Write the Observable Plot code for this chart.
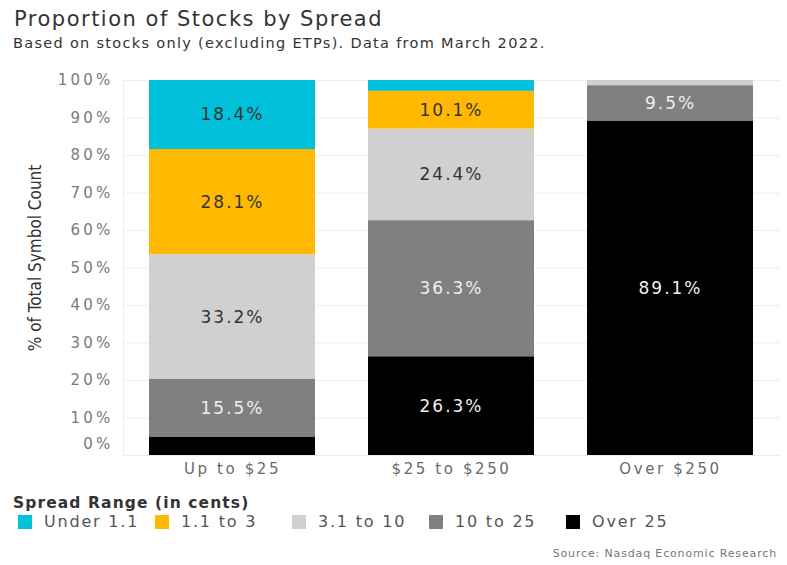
<!DOCTYPE html>
<html>
<head>
<meta charset="utf-8">
<script src="https://cdn.jsdelivr.net/npm/d3@7"></script>
<script src="https://cdn.jsdelivr.net/npm/@observablehq/plot@0.6"></script>
<style>
  body { margin: 0; background: #fff; width: 787px; height: 565px; overflow: hidden; position: relative; font-family: "DejaVu Sans", sans-serif; }
  #title { position: absolute; left: 14px; top: 9px; font-size: 21px; line-height: 21px; letter-spacing: 1.5px; color: #333; white-space: nowrap; }
  #subtitle { position: absolute; left: 13px; top: 36px; font-size: 14.5px; line-height: 15px; letter-spacing: 1.3px; color: #333; white-space: nowrap; }
  #chart { position: absolute; left: 0; top: 60px; }
  #legend-title { position: absolute; left: 13px; top: 493px; font-weight: bold; font-size: 15.5px; line-height: 20px; letter-spacing: 1.1px; color: #333; white-space: nowrap; }
  #legend { position: absolute; left: 18px; top: 512px; display: flex; }
  .item { width: 137px; display: flex; align-items: center; font-size: 16px; line-height: 20px; letter-spacing: 1.8px; color: #555; white-space: nowrap; }
  .swatch { width: 14px; height: 14px; margin-right: 12px; flex: none; }
  #source { position: absolute; right: 10px; top: 548px; font-size: 11px; line-height: 12px; letter-spacing: 0.85px; color: #777; white-space: nowrap; }
</style>
</head>
<body>
<div id="title">Proportion of Stocks by Spread</div>
<div id="subtitle">Based on stocks only (excluding ETPs). Data from March 2022.</div>
<div id="chart"></div>
<div id="legend-title">Spread Range (in cents)</div>
<div id="legend"></div>
<div id="source">Source: Nasdaq Economic Research</div>
<script>
// Categories
const priceGroups = ["Up to $25", "$25 to $250", "Over $250"];
const spreadRanges = ["Under 1.1", "1.1 to 3", "3.1 to 10", "10 to 25", "Over 25"];
const rangeColors = ["#00c1d9", "#ffb900", "#d0d0d0", "#808080", "#000000"];
const darkLabelRanges = ["Under 1.1", "1.1 to 3", "3.1 to 10"];
// Series values (% of total symbol count), in spreadRanges order
const upTo25 = [18.4, 28.1, 33.2, 15.5, 4.8];
const from25to250 = [2.9, 10.1, 24.4, 36.3, 26.3];
const over250 = [0, 0, 1.4, 9.5, 89.1];
// Tick values
const yTicks = [0, 10, 20, 30, 40, 50, 60, 70, 80, 90, 100];

const seriesByGroup = [upTo25, from25to250, over250];
const data = [];
priceGroups.forEach((g, gi) => {
  spreadRanges.forEach((r, ri) => {
    data.push({group: g, range: r, value: seriesByGroup[gi][ri]});
  });
});
const stackOrder = spreadRanges.slice().reverse();
const colorOf = r => rangeColors[spreadRanges.indexOf(r)];
const label = d => d.value >= 5 ? d.value.toFixed(1) + "%" : "";

const chart = Plot.plot({
  width: 787,
  height: 420,
  marginLeft: 123,
  marginRight: 7,
  marginTop: 20,
  marginBottom: 25,
  style: {fontFamily: "DejaVu Sans, sans-serif", background: "#fff"},
  x: {domain: priceGroups, paddingInner: 0.24, paddingOuter: 0.115},
  y: {domain: [0, 100]},
  color: {type: "identity"},
  marks: [
    Plot.gridY(yTicks, {stroke: "#eeeeee", strokeOpacity: 1}),
    Plot.frame({anchor: "left", stroke: "#eeeeee"}),
    Plot.frame({anchor: "bottom", stroke: "#eeeeee"}),
    Plot.barY(data, Plot.stackY({
      x: "group", y: "value", z: "range", order: stackOrder,
      fill: d => colorOf(d.range)
    })),
    Plot.text(data, Plot.stackY({
      x: "group", y: "value", z: "range", order: stackOrder,
      text: d => darkLabelRanges.includes(d.range) ? label(d) : "",
      fill: "#333333", fontSize: 17
    })),
    Plot.text(data, Plot.stackY({
      x: "group", y: "value", z: "range", order: stackOrder,
      text: d => darkLabelRanges.includes(d.range) ? "" : label(d),
      fill: "#eeeeee", fontSize: 17
    })),
    Plot.axisY(yTicks, {
      tickSize: 0, tickPadding: 10, tickFormat: d => d + "%",
      fontSize: 15, fill: "#7a7a7a",
      label: null
    }),
    Plot.axisX({
      tickSize: 0, tickPadding: 8, fontSize: 15, fill: "#6a6a6a", label: null
    })
  ]
});

// letter spacing like the reference's wide font
d3.select(chart).selectAll('[aria-label="y-axis tick label"] text').style("letter-spacing", "3.2px");
d3.select(chart).selectAll('[aria-label="x-axis tick label"] text').style("letter-spacing", "2.6px");
d3.select(chart).selectAll('[aria-label="text"] text').style("letter-spacing", "2px");
// the reference lifts the 0% label above the baseline
d3.select(chart).selectAll('[aria-label="y-axis tick label"] text')
  .filter(function() { return this.textContent === "0%"; })
  .attr("dy", "-0.75em");

// y axis title
d3.select(chart).append("text")
  .attr("transform", "translate(41,198) rotate(-90)")
  .attr("text-anchor", "middle")
  .style("font-family", "DejaVu Sans Condensed, Liberation Sans Narrow, sans-serif")
  .style("font-stretch", "condensed")
  .style("font-size", "17px")
  .style("fill", "#333")
  .text("% of Total Symbol Count");

document.getElementById("chart").append(chart);

const legend = d3.select("#legend");
spreadRanges.forEach((r, i) => {
  const item = legend.append("div").attr("class", "item");
  item.append("div").attr("class", "swatch").style("background", rangeColors[i]);
  item.append("span").text(r);
});
</script>
</body>
</html>
